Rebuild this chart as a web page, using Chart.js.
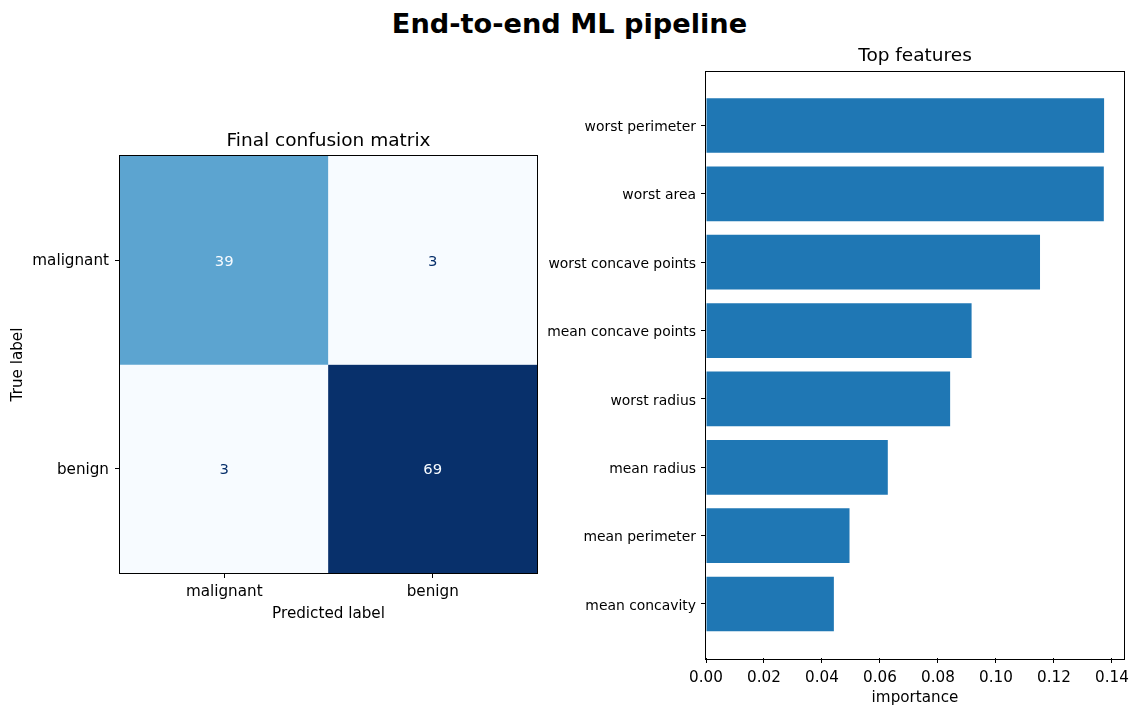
<!DOCTYPE html>
<html>
<head>
<meta charset="utf-8">
<title>End-to-end ML pipeline</title>
<script src="https://cdn.jsdelivr.net/npm/chart.js@4.4.0/dist/chart.umd.min.js"></script>
<style>
  html, body { margin: 0; padding: 0; background: #fff; }
  body { width: 1139px; height: 716px; position: relative; overflow: hidden; font-family: 'DejaVu Sans', sans-serif; }
  #suptitle {
    position: absolute; left: 0; top: 8px; width: 1139px;
    text-align: center; font-weight: bold; font-size: 27.2px; line-height: 32px; color: #000;
  }
  #cmWrap { position: absolute; left: 0; top: 100px; }
  #fiWrap { position: absolute; left: 530px; top: 30px; }
</style>
</head>
<body>
<div id="suptitle">End-to-end ML pipeline</div>
<div id="cmWrap"><canvas id="cmChart" width="560" height="560"></canvas></div>
<div id="fiWrap"><canvas id="fiChart" width="609" height="686"></canvas></div>

<script>
// Confusion matrix data (rows = true label, cols = predicted label)
const classLabels = ['malignant', 'benign'];
const confusionRows = [
  [39, 3],
  [3, 69]
];

// Feature importances, listed top to bottom
const featureNames = [
  'worst perimeter',
  'worst area',
  'worst concave points',
  'mean concave points',
  'worst radius',
  'mean radius',
  'mean perimeter',
  'mean concavity'
];
const importanceValues = [0.1373, 0.1372, 0.1152, 0.0916, 0.0842, 0.0627, 0.0495, 0.0441];
const importanceTicks = [0, 0.02, 0.04, 0.06, 0.08, 0.10, 0.12, 0.14];

Chart.defaults.font.family = "'DejaVu Sans', sans-serif";
Chart.defaults.color = '#000';
Chart.defaults.animation = false;

const TICK_FONT = { size: 15.2 };
const LABEL_FONT = { size: 15.2 };
const TITLE_FONT = { size: 18.5, weight: 'normal' };

/**
 * matplotlib "Blues" colormap
 */
const BLUES = ['#f7fbff', '#deebf7', '#c6dbef', '#9ecae1', '#6baed6', '#4292c6', '#2171b5', '#08519c', '#08306b'];

function blues(t) {
  t = Math.min(1, Math.max(0, t));
  const pos = t * (BLUES.length - 1);
  const i = Math.min(Math.floor(pos), BLUES.length - 2);
  const f = pos - i;
  const a = hexToRgb(BLUES[i]);
  const b = hexToRgb(BLUES[i + 1]);
  const c = a.map((v, k) => Math.round(v + (b[k] - v) * f));
  return `rgb(${c[0]}, ${c[1]}, ${c[2]})`;
}

function hexToRgb(hex) {
  const n = parseInt(hex.slice(1), 16);
  return [(n >> 16) & 255, (n >> 8) & 255, n & 255];
}

/**
 * Draws a black frame around the plot area (matplotlib spines)
 */
const framePlugin = {
  id: 'frame',
  afterDraw(chart) {
    const { ctx, chartArea: a } = chart;
    ctx.save();
    ctx.strokeStyle = '#000';
    ctx.lineWidth = 1;
    ctx.strokeRect(Math.round(a.left) - 0.5, Math.round(a.top) - 0.5,
      Math.round(a.right - a.left) + 1, Math.round(a.bottom - a.top) + 1);
    ctx.restore();
  }
};

// Confusion matrix --------------------------------------------------------
const allCounts = confusionRows.flat();
const vmin = Math.min(...allCounts);
const vmax = Math.max(...allCounts);
const threshold = (vmin + vmax) / 2;

/**
 * Writes the count in the middle of each cell
 */
const cellTextPlugin = {
  id: 'cellText',
  afterDatasetsDraw(chart) {
    const { ctx, scales } = chart;
    ctx.save();
    ctx.font = `14.8px 'DejaVu Sans', sans-serif`;
    ctx.textAlign = 'center';
    ctx.textBaseline = 'middle';
    confusionRows.forEach((row, i) => {
      row.forEach((v, j) => {
        ctx.fillStyle = v > threshold ? blues(0) : blues(1);
        ctx.fillText(String(v), scales.x.getPixelForValue(j), scales.y.getPixelForValue(i + 0.5) + 1.5);
      });
    });
    ctx.restore();
  }
};

new Chart(document.getElementById('cmChart'), {
  type: 'bar',
  data: {
    labels: classLabels,
    datasets: confusionRows.map((row, i) => ({
      data: row.map(() => [i, i + 1]),
      backgroundColor: row.map(v => blues((v - vmin) / (vmax - vmin))),
      borderWidth: 0,
      grouped: false,
      barPercentage: 1,
      categoryPercentage: 1
    }))
  },
  options: {
    responsive: false,
    devicePixelRatio: 1,
    layout: { padding: { left: 0, right: 23, top: 0, bottom: 0 } },
    plugins: {
      legend: { display: false },
      tooltip: { enabled: false },
      title: {
        display: true,
        fullSize: false,
        text: 'Final confusion matrix',
        font: TITLE_FONT,
        color: '#000',
        padding: { top: 30, bottom: 3.8 }
      }
    },
    scales: {
      x: {
        type: 'category',
        offset: true,
        grid: { offset: false, drawOnChartArea: false, tickLength: 5, tickColor: '#000' },
        border: { display: false },
        ticks: { font: TICK_FONT, color: '#000', padding: 4.5, maxRotation: 0 },
        title: { display: true, text: 'Predicted label', font: LABEL_FONT, color: '#000', padding: { top: 0, bottom: 37 } },
        afterFit: s => { s.height = 87; }
      },
      y: {
        type: 'linear',
        min: 0,
        max: classLabels.length,
        reverse: true,
        afterBuildTicks: s => { s.ticks = classLabels.map((_, i) => ({ value: i + 0.5 })); },
        grid: { drawOnChartArea: false, tickLength: 5, tickColor: '#000' },
        border: { display: false },
        ticks: {
          font: TICK_FONT, color: '#000', padding: 6, autoSkip: false, maxRotation: 0, labelOffset: 1,
          callback: (value, index) => classLabels[index]
        },
        title: { display: true, text: 'True label', font: LABEL_FONT, color: '#000', padding: { top: 8.5, bottom: 0 } },
        afterFit: s => { s.width = 120; }
      }
    }
  },
  plugins: [framePlugin, cellTextPlugin]
});

// Feature importances -----------------------------------------------------
const yPad = 0.05 * (featureNames.length - 1 + 0.8);

new Chart(document.getElementById('fiChart'), {
  type: 'bar',
  data: {
    datasets: [{
      data: featureNames.map((name, i) => ({ x: importanceValues[i], y: i })),
      backgroundColor: '#1f77b4',
      borderWidth: 0,
      barPercentage: 0.8,
      categoryPercentage: 1
    }]
  },
  options: {
    indexAxis: 'y',
    responsive: false,
    devicePixelRatio: 1,
    layout: { padding: { left: 0, right: 15, top: 0, bottom: 0 } },
    plugins: {
      legend: { display: false },
      tooltip: { enabled: false },
      title: {
        display: true,
        fullSize: false,
        text: 'Top features',
        font: TITLE_FONT,
        color: '#000',
        padding: { top: 15, bottom: 4.3 }
      }
    },
    scales: {
      x: {
        type: 'linear',
        min: 0,
        max: Math.max(...importanceValues) * 1.05,
        afterBuildTicks: s => { s.ticks = importanceTicks.map(v => ({ value: v })); },
        grid: { drawOnChartArea: false, tickLength: 5, tickColor: '#000' },
        border: { display: false },
        ticks: { font: TICK_FONT, color: '#000', padding: 5.5, maxRotation: 0, callback: v => v.toFixed(2) },
        title: { display: true, text: 'importance', font: LABEL_FONT, color: '#000', padding: { top: 0, bottom: 8.5 } },
        afterFit: s => { s.height = 58; }
      },
      y: {
        type: 'linear',
        min: -0.4 - yPad,
        max: featureNames.length - 1 + 0.4 + yPad,
        reverse: true,
        offset: false,
        afterBuildTicks: s => { s.ticks = featureNames.map((_, i) => ({ value: i })); },
        grid: { offset: false, drawOnChartArea: false, tickLength: 5, tickColor: '#000' },
        border: { display: false },
        ticks: {
          font: { size: 13.9 }, color: '#000', padding: 5, autoSkip: false, maxRotation: 0, labelOffset: 2,
          callback: (value, index) => featureNames[index]
        },
        afterFit: s => { s.width = 176; }
      }
    }
  },
  plugins: [framePlugin]
});
</script>
</body>
</html>
